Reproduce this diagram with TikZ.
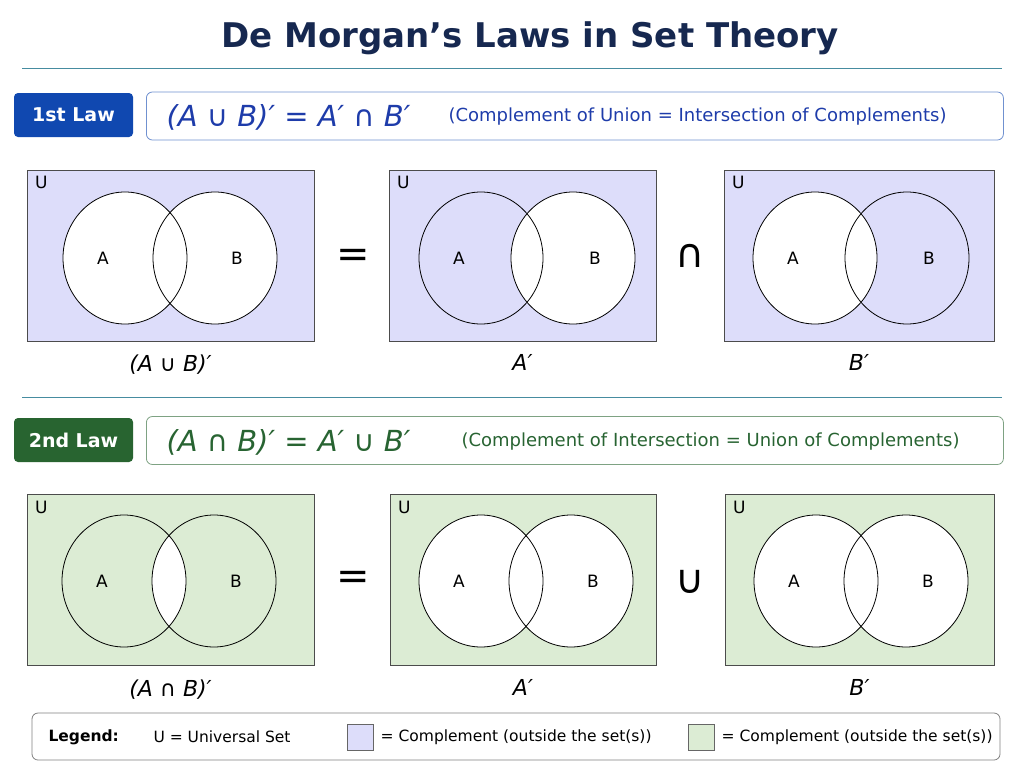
\documentclass[tikz,border=0pt]{standalone}
\usepackage{fontspec}
\setmainfont{DejaVu Sans}
\usetikzlibrary{positioning}
\definecolor{navy}{RGB}{22,40,80}
\definecolor{lav}{RGB}{221,221,250}
\definecolor{mint}{RGB}{220,236,212}
\definecolor{lawblue}{RGB}{16,72,176}
\definecolor{lawgreen}{RGB}{40,100,48}
\definecolor{fblue}{RGB}{30,60,170}
\definecolor{fgreen}{RGB}{40,100,50}
\definecolor{rule}{RGB}{70,140,160}
\tikzset{
  ubox/.style={draw=black!70,line width=0.8pt,minimum width=#1,minimum height=171pt,inner sep=0pt},
  lawtag/.style={rounded corners=4pt,text=white,font=\fontsize{19}{20}\selectfont\bfseries,minimum width=119pt,minimum height=44pt},
  formbox/.style={draw=#1!60,rounded corners=6pt,line width=0.8pt,minimum width=857pt,minimum height=48pt},
  setlbl/.style={font=\fontsize{17}{17}\selectfont},
  caption/.style={font=\fontsize{22}{22}\selectfont\itshape},
  op/.style={font=\fontsize{40}{40}\selectfont},
}
% venn: cx, cy, dx(half distance), fill A, fill B, fill AB
\newcommand{\venn}[6]{%
  \fill[#4] (#1-#3,#2) ellipse [x radius=62,y radius=66];
  \fill[#5] (#1+#3,#2) ellipse [x radius=62,y radius=66];
  \begin{scope}
    \clip (#1-#3,#2) ellipse [x radius=62,y radius=66];
    \fill[#6] (#1+#3,#2) ellipse [x radius=62,y radius=66];
  \end{scope}
  \draw[line width=0.8pt] (#1-#3,#2) ellipse [x radius=62,y radius=66]
    (#1+#3,#2) ellipse [x radius=62,y radius=66];
  \node[setlbl] at (#1-#3-22,#2) {A};
  \node[setlbl] at (#1+#3+22,#2) {B};
}
\begin{document}
\begin{tikzpicture}[x=1pt,y=-1pt]
  \useasboundingbox[fill=white] (0,0) rectangle (1024,768);
  %
  % Title
  \node[text=navy,font=\fontsize{34}{36}\selectfont\bfseries] (title) at (530,38) {De Morgan’s Laws in Set Theory};
  \draw[rule,line width=1pt] (22,68) -- (1002,68);
  %
  % 1st law header
  \node[lawtag,fill=lawblue] (law1) at (73.5,115) {1st Law};
  \node[formbox=lawblue,anchor=west] (form1) at (146,116) {};
  \node[anchor=west,text=fblue,font=\fontsize{29}{29}\selectfont\itshape] (eq1) at (163,117) {(A ∪ B)′ = A′ ∩ B′};
  \node[anchor=west,text=fblue,font=\fontsize{18}{18}\selectfont] (txt1) at (445,117) {(Complement of Union = Intersection of Complements)};
  %
  % 1st law diagrams
  \node[ubox=287pt,fill=lav] (u11) at (170.5,255.5) {};
  \node[ubox=267pt,fill=lav] (u12) at (522.5,255.5) {};
  \node[ubox=270pt,fill=lav] (u13) at (859,255.5) {};
  \venn{170}{258}{45}{white}{white}{white}
  \venn{527}{258}{46}{lav}{white}{white}
  \venn{861}{258}{46}{white}{lav}{white}
  \foreach \b in {u11,u12,u13}
    \node[setlbl,anchor=north west] at ([shift={(5,3)}]\b.north west) {U};
  \node[op] (eqa) at (353,258) {=};
  \node[op] (cap) at (690,256) {∩};
  \node[caption,below=10pt of u11] (c11) {(A ∪ B)′};
  \node[caption,below=10pt of u12] (c12) {A′};
  \node[caption,below=10pt of u13] (c13) {B′};
  %
  \draw[rule,line width=1pt] (22,397) -- (1002,397);
  %
  % 2nd law header
  \node[lawtag,fill=lawgreen] (law2) at (73.5,440) {2nd Law};
  \node[formbox=lawgreen,anchor=west] (form2) at (146,440.5) {};
  \node[anchor=west,text=fgreen,font=\fontsize{29}{29}\selectfont\itshape] (eq2) at (163,442) {(A ∩ B)′ = A′ ∪ B′};
  \node[anchor=west,text=fgreen,font=\fontsize{18}{18}\selectfont] (txt2) at (458,442) {(Complement of Intersection = Union of Complements)};
  %
  % 2nd law diagrams
  \node[ubox=287pt,fill=mint] (u21) at (170.5,580) {};
  \node[ubox=266pt,fill=mint] (u22) at (523,580) {};
  \node[ubox=269pt,fill=mint] (u23) at (859.5,580) {};
  \venn{169}{581}{45}{mint}{mint}{white}
  \venn{526}{581}{45}{white}{white}{white}
  \venn{861}{581}{45}{white}{white}{white}
  \foreach \b in {u21,u22,u23}
    \node[setlbl,anchor=north west] at ([shift={(5,3)}]\b.north west) {U};
  \node[op] (eqb) at (353,580) {=};
  \node[op] (cup) at (690,582) {∪};
  \node[caption,below=10pt of u21] (c21) {(A ∩ B)′};
  \node[caption,below=10pt of u22] (c22) {A′};
  \node[caption,below=10pt of u23] (c23) {B′};
  %
  % Legend
  \node[draw=black!50,rounded corners=6pt,line width=0.8pt,minimum width=968pt,minimum height=47pt] (legend) at (516,736.5) {};
  \node[anchor=west,font=\fontsize{15.5}{15}\selectfont\bfseries] (lg) at (45,737) {Legend:};
  \node[anchor=west,font=\fontsize{15.5}{15}\selectfont] (lgu) at (150,737) {U = Universal Set};
  \node[draw=black!60,fill=lav,minimum width=26pt,minimum height=26pt] (sw1) at (360,737) {};
  \node[anchor=west,font=\fontsize{15.5}{15}\selectfont,right=4pt of sw1] (lg1) {= Complement (outside the set(s))};
  \node[draw=black!60,fill=mint,minimum width=26pt,minimum height=26pt] (sw2) at (701,737) {};
  \node[anchor=west,font=\fontsize{15.5}{15}\selectfont,right=4pt of sw2] (lg2) {= Complement (outside the set(s))};
\end{tikzpicture}
\end{document}
